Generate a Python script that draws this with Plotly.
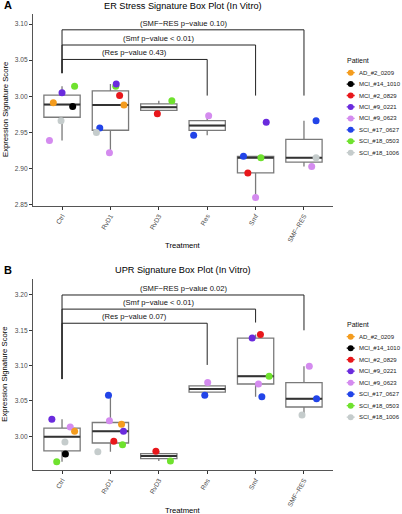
import numpy as np
import plotly.graph_objects as go

FONT = "Liberation Sans, Arial, Helvetica, sans-serif"

treatments = ["Ctrl", "RvD1", "RvD3", "Res", "Smf", "SMF\u2212RES"]
patients = ["AD_#2_0209", "MCI_#14_1010", "MCI_#2_0829", "MCI_#9_0221",
            "MCI_#9_0623", "SCI_#17_0627", "SCI_#18_0503", "SCI_#18_1006"]
patient_colors = ["#F49C1E", "#000000", "#E8171B", "#6A2BDD",
                  "#D48BEF", "#2244E8", "#6FE22E", "#C5CCCC"]

# ---- Panel A: ER stress signature ----
er_treatment = ["Ctrl"] * 6 + ["RvD1"] * 7 + ["RvD3"] * 2 + ["Res"] * 2 + ["Smf"] * 5 + ["SMF\u2212RES"] * 3
er_patient = ["SCI_#18_0503", "MCI_#9_0221", "AD_#2_0209", "MCI_#14_1010", "SCI_#18_1006", "MCI_#9_0623",
              "SCI_#18_0503", "MCI_#9_0221", "MCI_#2_0829", "AD_#2_0209", "SCI_#17_0627", "SCI_#18_1006", "MCI_#9_0623",
              "SCI_#18_0503", "MCI_#2_0829",
              "MCI_#9_0623", "SCI_#17_0627",
              "MCI_#9_0221", "SCI_#17_0627", "SCI_#18_0503", "MCI_#2_0829", "MCI_#9_0623",
              "SCI_#17_0627", "SCI_#18_1006", "MCI_#9_0623"]
er_value = [3.014, 3.005, 2.991, 2.986, 2.966, 2.939,
            3.014, 3.017, 3.001, 2.988, 2.956, 2.950, 2.922,
            2.994, 2.976,
            2.973, 2.946,
            2.964, 2.917, 2.915, 2.894, 2.860,
            2.966, 2.915, 2.903]
er_jitter = [0.26, 0.00, -0.18, 0.22, -0.02, -0.26,
             0.11, 0.12, 0.19, 0.28, -0.22, -0.29, -0.02,
             0.27, -0.03,
             0.03, -0.28,
             0.22, -0.25, 0.11, -0.16, 0.00,
             0.25, 0.25, 0.16]
er_comparisons = ["Res", "Smf", "SMF\u2212RES"]
er_labels = ["(Res p\u2212value 0.43)", "(Smf p\u2212value < 0.01)", "(SMF\u2212RES p\u2212value 0.10)"]
er_bracket_level = [3.051, 3.071, 3.092]
er_bracket_left_end = 3.032
er_bracket_right_end = [3.001, 3.001, 3.001]
er_yticks = [2.85, 2.90, 2.95, 3.00, 3.05, 3.10]

# ---- Panel B: UPR signature ----
upr_treatment = ["Ctrl"] * 6 + ["RvD1"] * 7 + ["RvD3"] * 2 + ["Res"] * 2 + ["Smf"] * 5 + ["SMF\u2212RES"] * 3
upr_patient = ["MCI_#9_0221", "MCI_#9_0623", "AD_#2_0209", "SCI_#18_1006", "MCI_#14_1010", "SCI_#18_0503",
               "SCI_#17_0627", "MCI_#9_0623", "AD_#2_0209", "MCI_#9_0221", "MCI_#2_0829", "SCI_#18_0503", "SCI_#18_1006",
               "MCI_#2_0829", "SCI_#18_0503",
               "MCI_#9_0623", "SCI_#17_0627",
               "MCI_#2_0829", "MCI_#9_0221", "SCI_#18_0503", "MCI_#9_0623", "SCI_#17_0627",
               "MCI_#9_0623", "SCI_#17_0627", "SCI_#18_1006"]
upr_value = [3.024, 3.013, 3.007, 2.992, 2.975, 2.964,
             3.058, 3.022, 3.017, 3.007, 2.993, 2.988, 2.978,
             2.979, 2.965,
             3.076, 3.058,
             3.144, 3.139, 3.085, 3.074, 3.056,
             3.099, 3.053, 3.030]
upr_jitter = [-0.21, 0.17, 0.26, 0.06, 0.07, -0.11,
              -0.04, -0.02, 0.23, 0.27, 0.07, 0.25, -0.26,
              -0.06, 0.24,
              0.01, -0.05,
              0.10, -0.07, 0.28, 0.06, 0.13,
              0.11, 0.26, -0.04]
upr_comparisons = ["Res", "Smf", "SMF\u2212RES"]
upr_labels = ["(Res p\u2212value 0.07)", "(Smf p\u2212value < 0.01)", "(SMF\u2212RES p\u2212value 0.02)"]
upr_bracket_level = [3.160, 3.180, 3.200]
upr_bracket_left_end = 3.081
upr_bracket_right_end = [3.101, 3.161, 3.150]
upr_yticks = [3.00, 3.05, 3.10, 3.15, 3.20]

W, H = 402, 514
BOX_W = 0.75


def px_x(p):
    return p / W


def px_y(p):
    return 1 - p / H


fig = go.Figure()
color_of = dict(zip(patients, patient_colors))
annotations = []


def add_panel(xref, yref, treat, pat, val, jit, comps, labels, levels, left_end, right_ends):
    treat = np.array(treat)
    val = np.array(val)
    med_x, med_y = [], []
    for i, t in enumerate(treatments):
        v = np.sort(val[treat == t])
        q1, med, q3 = np.percentile(v, [25, 50, 75])
        iqr = q3 - q1
        lo = v[v >= q1 - 1.5 * iqr].min()
        hi = v[v <= q3 + 1.5 * iqr].max()
        fig.add_trace(go.Box(x=[i], q1=[q1], median=[med], q3=[q3],
                             lowerfence=[lo], upperfence=[hi],
                             width=BOX_W, whiskerwidth=0, boxpoints=False,
                             fillcolor="white", line=dict(color="#7a7a7a", width=1.3),
                             xaxis=xref, yaxis=yref, showlegend=False, hoverinfo="skip"))
        med_x += [i - BOX_W / 2, i + BOX_W / 2, None]
        med_y += [med, med, None]
    fig.add_trace(go.Scatter(x=med_x, y=med_y, mode="lines",
                             line=dict(color="#333333", width=2),
                             xaxis=xref, yaxis=yref, showlegend=False, hoverinfo="skip"))
    # jittered points
    xs = [treatments.index(t) + j for t, j in zip(treat, jit)]
    fig.add_trace(go.Scatter(x=xs, y=val, mode="markers",
                             marker=dict(size=7, color=[color_of[p] for p in pat], line=dict(width=0)),
                             xaxis=xref, yaxis=yref, showlegend=False, hoverinfo="skip"))
    # significance brackets
    for c, lab, lev, rend in zip(comps, labels, levels, right_ends):
        k = treatments.index(c)
        fig.add_trace(go.Scatter(x=[0, 0, k, k], y=[left_end, lev, lev, rend], mode="lines",
                                 line=dict(color="#222222", width=1),
                                 xaxis=xref, yaxis=yref, showlegend=False, hoverinfo="skip"))
        annotations.append(dict(x=k / 2, y=lev, xref=xref, yref=yref, text=lab, showarrow=False,
                                yshift=6.5, font=dict(size=7.6, color="#111111", family=FONT)))


add_panel("x", "y", er_treatment, er_patient, er_value, er_jitter, er_comparisons,
          er_labels, er_bracket_level, er_bracket_left_end, er_bracket_right_end)
add_panel("x2", "y2", upr_treatment, upr_patient, upr_value, upr_jitter, upr_comparisons,
          upr_labels, upr_bracket_level, upr_bracket_left_end, upr_bracket_right_end)

KEY_X, KEY_HALF = 10.7, 4.0


# manual legends (compact ggplot-style keys)
def add_legend(xref, yref):
    idx = list(range(len(patients)))
    for i, c in enumerate(patient_colors):
        fig.add_trace(go.Scatter(x=[KEY_X - KEY_HALF, KEY_X + KEY_HALF], y=[i, i], mode="lines",
                                 line=dict(color=c, width=1.3),
                                 xaxis=xref, yaxis=yref, showlegend=False, hoverinfo="skip"))
    fig.add_trace(go.Scatter(x=[KEY_X] * len(patients), y=idx, mode="markers",
                             marker=dict(size=6, color=patient_colors),
                             xaxis=xref, yaxis=yref, showlegend=False, hoverinfo="skip"))
    for i, p in enumerate(patients):
        annotations.append(dict(x=16.8, y=i, xref=xref, yref=yref, text=p, showarrow=False,
                                xanchor="left", yanchor="middle",
                                font=dict(size=6.0, color="#222222", family=FONT)))
    annotations.append(dict(x=5, y=-1.1, xref=xref, yref=yref, text="Patient", showarrow=False,
                            xanchor="left", yanchor="middle",
                            font=dict(size=7, color="#111111", family=FONT)))


add_legend("x3", "y3")
add_legend("x4", "y4")

# titles and labels
for txt, yp in [("ER Stress Signature Box Plot (In Vitro)", 6),
                ("UPR Signature Box Plot (In Vitro)", 270)]:
    annotations.append(dict(x=px_x(183), y=px_y(yp), xref="paper", yref="paper", text=txt,
                            showarrow=False, xanchor="center", yanchor="middle",
                            font=dict(size=9.2, color="#000", family=FONT)))
for txt, yp in [("<b>A</b>", 5.5), ("<b>B</b>", 270)]:
    annotations.append(dict(x=px_x(1.5), y=px_y(yp), xref="paper", yref="paper", text=txt,
                            showarrow=False, xanchor="left", yanchor="middle",
                            font=dict(size=11, color="#000", family=FONT)))
for yp in [110, 374.7]:
    annotations.append(dict(x=px_x(5), y=px_y(yp), xref="paper", yref="paper",
                            text="Expression Signature Score", textangle=-90, showarrow=False,
                            xanchor="center", yanchor="middle",
                            font=dict(size=7.7, color="#000", family=FONT)))
for yp in [245, 510.5]:
    annotations.append(dict(x=px_x(183), y=px_y(yp), xref="paper", yref="paper",
                            text="Treatment", showarrow=False, xanchor="center", yanchor="middle",
                            font=dict(size=7.7, color="#000", family=FONT)))

xdom = [px_x(33), px_x(333)]
common_x = dict(domain=xdom, range=[-0.6, 5.6], tickvals=list(range(len(treatments))),
                ticktext=treatments, tickangle=-60, ticks="outside", ticklen=3,
                tickcolor="#333", showline=True, linecolor="#555", linewidth=1,
                showgrid=False, zeroline=False, fixedrange=True, automargin=False,
                tickfont=dict(size=6.6, color="#4d4d4d", family=FONT))
common_y = dict(ticks="outside", ticklen=3, tickcolor="#333", showline=True,
                linecolor="#555", linewidth=1, showgrid=False, zeroline=False,
                automargin=False, fixedrange=True,
                tickfont=dict(size=6.6, color="#4d4d4d", family=FONT))
hidden = dict(visible=False, fixedrange=True, automargin=False, showgrid=False, zeroline=False)

fig.update_layout(
    template="none",
    width=W, height=H, margin=dict(l=0, r=0, t=0, b=0, pad=0, autoexpand=False),
    paper_bgcolor="white", plot_bgcolor="white", showlegend=False,
    font=dict(family=FONT),
    xaxis=dict(**common_x, anchor="y"),
    yaxis=dict(**common_y, anchor="x", domain=[px_y(205.7), px_y(14)], range=[2.8486, 3.1139],
               tickvals=er_yticks, ticktext=[f"{v:.2f}" for v in er_yticks]),
    xaxis2=dict(**common_x, anchor="y2"),
    yaxis2=dict(**common_y, anchor="x2", domain=[px_y(470), px_y(279.3)], range=[2.9523, 3.2222],
                tickvals=upr_yticks, ticktext=[f"{v:.2f}" for v in upr_yticks]),
    xaxis3=dict(**hidden, domain=[px_x(340), 1], range=[0, 62], anchor="y3"),
    yaxis3=dict(**hidden, domain=[px_y(158.4), px_y(55.5)], range=[7.5, -1.5], anchor="x3"),
    xaxis4=dict(**hidden, domain=[px_x(340), 1], range=[0, 62], anchor="y4"),
    yaxis4=dict(**hidden, domain=[px_y(422.95), px_y(319.45)], range=[7.5, -1.5], anchor="x4"),
    annotations=annotations,
)

fig.write_html("out.html", config={"displayModeBar": False},
               post_script="document.body.style.margin='0';document.body.style.overflow='hidden';")
